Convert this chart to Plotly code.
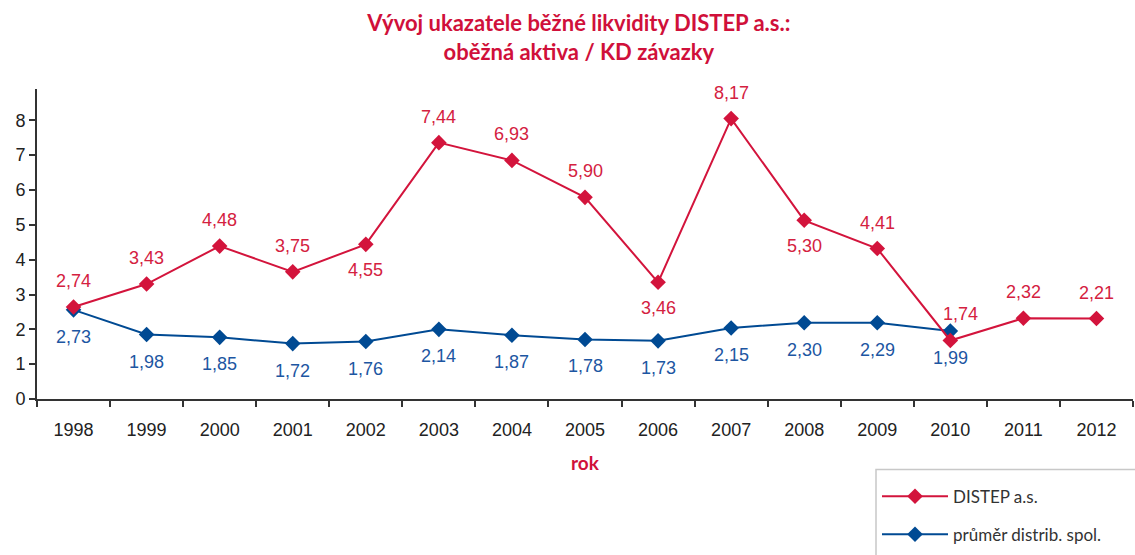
import plotly.graph_objects as go

years = [str(y) for y in range(1998, 2013)]
# plotted positions
distep_vals = [2.64, 3.30, 4.39, 3.65, 4.44, 7.36, 6.85, 5.79, 3.35, 8.05, 5.13, 4.32, 1.68, 2.32, 2.31]
avg_vals = [2.56, 1.85, 1.77, 1.59, 1.65, 2.00, 1.83, 1.71, 1.67, 2.04, 2.19, 2.19, 1.95]
# data labels as printed
distep_labels = ["2,74", "3,43", "4,48", "3,75", "4,55", "7,44", "6,93", "5,90", "3,46", "8,17",
                 "5,30", "4,41", "1,74", "2,32", "2,21"]
avg_labels = ["2,73", "1,98", "1,85", "1,72", "1,76", "2,14", "1,87", "1,78", "1,73", "2,15",
              "2,30", "2,29", "1,99"]
y_ticks = [0, 1, 2, 3, 4, 5, 6, 7, 8]

# label placement (style)
distep_side = [1, 1, 1, 1, -1, 1, 1, 1, -1, 1, -1, 1, 1, 1, 1]

RED = "#d3143c"
BLUE = "#004a93"
RED_TXT = "#d4213f"
BLUE_TXT = "#1d56a2"
LBL_FONT = "Liberation Sans, Arial"

W, H = 1135, 555
ML, MR, MT, MB = 37, 2, 89, 154
PW, PH = W - ML - MR, H - MT - MB


def px_to_paper_x(px):
    return (px - ML) / PW


def px_to_paper_y(py):
    return (H - MB - py) / PH


fig = go.Figure()
fig.add_trace(go.Scatter(
    x=years[:len(avg_vals)], y=avg_vals, mode="lines+markers", name="průměr distrib. spol.",
    line=dict(color=BLUE, width=2), marker=dict(symbol="diamond", size=12, color=BLUE),
    legendgroup="b", legendrank=2))
fig.add_trace(go.Scatter(
    x=years, y=distep_vals, mode="lines+markers", name="DISTEP a.s.",
    line=dict(color=RED, width=2), marker=dict(symbol="diamond", size=12, color=RED),
    legendgroup="a", legendrank=1))

annotations = []
# on a category axis, annotation positions use the category serial number
for i, (v, t) in enumerate(zip(distep_vals, distep_labels)):
    xs = 10 if years[i] == "2010" else 0
    annotations.append(dict(x=i, y=v, xref="x", yref="y", text=t, showarrow=False,
                            yshift=26 * distep_side[i], xshift=xs,
                            font=dict(family=LBL_FONT, size=18, color=RED_TXT)))
for i, (v, t) in enumerate(zip(avg_vals, avg_labels)):
    annotations.append(dict(x=i, y=v, xref="x", yref="y", text=t, showarrow=False, yshift=-27,
                            font=dict(family=LBL_FONT, size=18, color=BLUE_TXT)))

# legend frame (extends past the canvas edge as in the original)
fig.add_shape(type="rect", xref="paper", yref="paper", layer="below",
              x0=px_to_paper_x(876), x1=px_to_paper_x(1145),
              y0=px_to_paper_y(565), y1=px_to_paper_y(472),
              line=dict(color="#c8c8c8", width=1.5), fillcolor="white")

fig.update_layout(
    width=W, height=H,
    margin=dict(l=ML, r=MR, t=MT, b=MB),
    paper_bgcolor="white", plot_bgcolor="white",
    title=dict(text="Vývoj ukazatele běžné likvidity DISTEP a.s.:<br>oběžná aktiva / KD závazky",
               x=0.51, xanchor="center", y=0.944, yanchor="top",
               font=dict(family="Lato", size=22, color="#d0103a", weight="bold")),
    annotations=annotations,
    showlegend=True,
    legend=dict(x=px_to_paper_x(877), xanchor="left", y=px_to_paper_y(472), yanchor="top",
                borderwidth=0, bgcolor="rgba(0,0,0,0)",
                font=dict(family="Lato", size=17, color="#333333"),
                title=dict(text="&nbsp;", font=dict(size=7)),
                itemwidth=66, tracegroupgap=13),
    xaxis=dict(type="category", categoryorder="array", categoryarray=years,
               range=[-0.5, len(years) - 0.5],
               showline=True, linecolor="#333333", linewidth=2,
               ticks="outside", tickson="boundaries", ticklen=6, tickwidth=2, tickcolor="#333333",
               showgrid=False, tickangle=0,
               tickfont=dict(family=LBL_FONT, size=18, color="#222222"),
               ticklabelstandoff=13,
               title=dict(text="rok", standoff=18,
                          font=dict(family="Lato", size=19, color="#d0103a", weight="bold"))),
    yaxis=dict(range=[0, 8.9], tickvals=y_ticks, showline=True, linecolor="#333333", linewidth=2,
               ticks="outside", ticklen=6, tickwidth=2, tickcolor="#333333",
               showgrid=False, zeroline=False,
               tickfont=dict(family=LBL_FONT, size=18, color="#222222")),
)

fig.write_html("out.html", config={"displayModeBar": False},
               post_script="document.body.style.margin='0';document.body.style.padding='0';")
